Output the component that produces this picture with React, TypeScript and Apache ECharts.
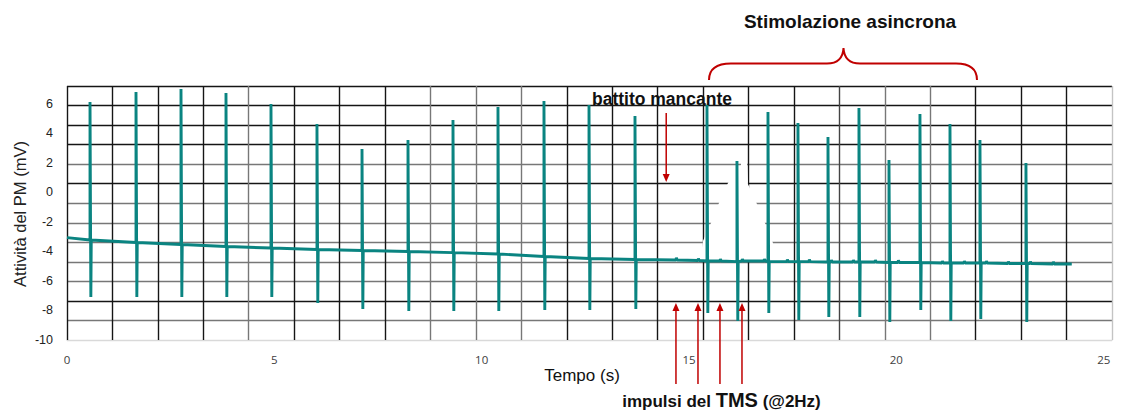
import React, { useEffect, useRef } from "react";
import * as echarts from "echarts";

// ---- data ----
const traceStart = [0, -3.07];
const traceEnd = [24.23, -4.85];

const beatTimes = [0.555, 1.664, 2.749, 3.834, 4.919, 6.028, 7.114, 8.223, 9.308, 10.393, 11.502, 12.588, 13.697, 15.433, 16.156, 16.904, 17.627, 18.351, 19.098, 19.822, 20.569, 21.293, 22.016, 23.125];
const beatBases = [-3.23, -3.4, -3.53, -3.67, -3.77, -3.87, -3.94, -4.01, -4.08, -4.18, -4.35, -4.48, -4.55, -4.65, -4.69, -4.69, -4.69, -4.72, -4.72, -4.75, -4.75, -4.79, -4.79, -4.82];
const beatPeaks = [6.11, 6.79, 6.99, 6.72, 5.98, 4.62, 2.93, 3.54, 4.9, 5.78, 6.18, 5.91, 5.17, 5.91, 2.12, 5.44, 4.69, 3.74, 5.71, 2.19, 5.3, 4.62, 3.54, 1.98];
const beatTroughs = [-7.09, -7.09, -7.09, -7.09, -7.09, -7.49, -7.9, -8.04, -8.04, -8.04, -7.97, -7.97, -7.9, -8.17, -8.71, -8.17, -8.65, -8.44, -8.44, -8.78, -7.97, -8.71, -8.58, -8.78];

const stimTimes = [14.685, 15.216, 15.746, 16.277, 16.807, 17.362, 17.892, 18.423, 18.953, 19.484, 20.039, 21.1, 21.63, 22.161, 22.691, 23.222, 23.776];
const stimBases = [-4.58, -4.62, -4.65, -4.65, -4.65, -4.69, -4.69, -4.72, -4.72, -4.72, -4.75, -4.79, -4.79, -4.79, -4.82, -4.82, -4.85];
const stimTops = [-4.44, -4.48, -4.51, -4.51, -4.51, -4.55, -4.55, -4.58, -4.58, -4.58, -4.61, -4.65, -4.65, -4.65, -4.68, -4.68, -4.71];

const missingBeatTime = 14.45;
const arrowedStims = [14.685, 15.216, 15.746, 16.277];

// white patch over the grid paper (data units)
const maskX = [15.264, 15.336, 15.529, 15.722, 15.939, 16.253, 16.253, 16.397, 16.421, 16.638, 16.831, 17.024, 17.097];
const maskY = [-4.72, -3.297, -2.079, -0.724, 0.63, 1.848, 2.051, 2.051, 0.562, -0.792, -2.079, -3.433, -4.72];

const xTickLabels = [0, 5, 10, 15, 20, 25];
const yTickLabels = [-10, -8, -6, -4, -2, 0, 2, 4, 6];

// grid-paper line colours
const K = "#151515";
const G = "#777777";
const vColors = [K, K, K, K, G, K, K, K, G, G, G, K, K, K, K, K, K, "#444", G, G, K, K, K, "#c4c4c4"];
const hColors = ["#d9d9d9", G, K, G, G, G, G, G, K, G, K, K, K, K];

const RED = "#c00000";
const TEAL = "#0a8481";

const braceD =
  "M709,80 C709,69 717,63.5 731,63.5 L827,63.5 C838,63.5 843,58 843.5,48 C844,58 849,63.5 860,63.5 L956,63.5 C970,63.5 977,69 977,80";
echarts.graphic.registerShape("brace", echarts.graphic.extendPath(braceD, {}));

function buildTrace() {
  type Ev = { t: number; pts: number[][] };
  const evs: Ev[] = [];
  beatTimes.forEach((t, i) => {
    evs.push({
      t,
      pts: [
        [t, beatBases[i]],
        [t, beatPeaks[i]],
        [t + 0.02, beatTroughs[i]],
        [t + 0.03, beatBases[i]],
      ],
    });
  });
  stimTimes.forEach((t, i) => {
    evs.push({
      t,
      pts: [
        [t, stimBases[i]],
        [t + 0.01, stimTops[i]],
        [t + 0.03, stimBases[i]],
      ],
    });
  });
  evs.sort((a, b) => a.t - b.t);
  const out: number[][] = [traceStart];
  evs.forEach((e) => e.pts.forEach((p) => out.push(p)));
  out.push(traceEnd);
  return out;
}

export default function App() {
  const ref = useRef<HTMLDivElement>(null);
  useEffect(() => {
    document.body.style.margin = "0";
    const el = ref.current!;
    const chart = echarts.init(el, null, { renderer: "svg" });
    const font = '"Liberation Sans", Arial, sans-serif';
    const option: any = {
      animation: false,
      grid: { left: 67, right: 9, top: 86, bottom: 72, containLabel: false, outerBoundsMode: "none" },
      xAxis: [
        {
          type: "value",
          min: 0,
          max: 25.2,
          interval: 5,
          position: "bottom",
          axisLine: { show: true, onZero: false, lineStyle: { color: "#d9d9d9", width: 1.2 } },
          axisTick: { show: false },
          splitLine: { show: false },
          axisLabel: {
            margin: 13,
            fontSize: 11.5,
            color: "#404040",
            fontFamily: "Open Sans",
            formatter: (v: number) => (xTickLabels.some((t) => Math.abs(t - v) < 1e-6) ? String(v) : ""),
          },
        },
        {
          type: "value",
          min: 0,
          max: 23,
          interval: 1,
          position: "top",
          axisLine: { show: false },
          axisTick: { show: false },
          axisLabel: { show: false },
          splitLine: { show: true, lineStyle: { color: vColors, width: 1.4 } },
        },
      ],
      yAxis: [
        {
          type: "value",
          min: -10,
          max: 7.2,
          interval: 2,
          axisLine: { show: false },
          axisTick: { show: false },
          splitLine: { show: false },
          axisLabel: {
            margin: 14,
            fontSize: 12.5,
            color: "#222",
            fontFamily: font,
            formatter: (v: number) => (yTickLabels.some((t) => Math.abs(t - v) < 1e-6) ? String(v) : ""),
          },
        },
        {
          type: "value",
          min: 0,
          max: 13,
          interval: 1,
          position: "right",
          axisLine: { show: false },
          axisTick: { show: false },
          axisLabel: { show: false },
          splitLine: { show: true, lineStyle: { color: hColors, width: 1.4 } },
        },
      ],
      series: [
        {
          type: "custom",
          xAxisIndex: 0,
          yAxisIndex: 0,
          silent: true,
          z: 1,
          data: maskX.map((x, i) => [x, maskY[i]]),
          renderItem: (params: any, api: any) => {
            if (params.dataIndex !== 0) return null;
            const pts = maskX.map((x, i) => api.coord([x, maskY[i]]));
            return { type: "polygon", shape: { points: pts }, style: { fill: "#ffffff", stroke: null } };
          },
        },
        {
          type: "line",
          xAxisIndex: 0,
          yAxisIndex: 0,
          data: buildTrace(),
          showSymbol: false,
          symbol: "none",
          silent: true,
          z: 3,
          lineStyle: { color: TEAL, width: 2.9, join: "bevel" },
        },
      ],
    };
    chart.setOption(option);

    const px = (t: number) => chart.convertToPixel({ xAxisIndex: 0 }, t) as number;
    const graphics: any[] = [];
    graphics.push({
      type: "brace",
      x: 0,
      y: 0,
      style: { stroke: RED, fill: "none", lineWidth: 2 },
      silent: true,
    });
    graphics.push({
      type: "text",
      x: 20,
      y: 214,
      rotation: Math.PI / 2,
      style: { text: "Attività del PM (mV)", fontSize: 16.5, fontFamily: font, fill: "#222", align: "center", verticalAlign: "middle" },
    });
    graphics.push({
      type: "text",
      x: 850,
      y: 21,
      style: { text: "Stimolazione asincrona", fontSize: 19, fontWeight: "bold", fontFamily: font, fill: "#111", align: "center", verticalAlign: "middle" },
    });
    graphics.push({
      type: "text",
      x: 662,
      y: 99,
      z: 10,
      style: { text: "battito mancante", fontSize: 17.5, fontWeight: "bold", fontFamily: font, fill: "#111", align: "center", verticalAlign: "middle" },
    });
    graphics.push({
      type: "text",
      x: 582,
      y: 375,
      style: { text: "Tempo (s)", fontSize: 17, fontFamily: font, fill: "#111", align: "center", verticalAlign: "middle" },
    });
    graphics.push({
      type: "text",
      x: 721.5,
      y: 400,
      style: {
        text: "{a|impulsi del }{b|TMS}{a| (@2Hz)}",
        align: "center",
        verticalAlign: "middle",
        fill: "#111",
        rich: {
          a: { fontSize: 17, fontWeight: "bold", fontFamily: font, fill: "#111", verticalAlign: "bottom" },
          b: { fontSize: 20, fontWeight: "bold", fontFamily: font, fill: "#111", verticalAlign: "bottom" },
        },
      },
    });
    // missing beat arrow
    const mx = px(missingBeatTime);
    graphics.push({ type: "line", z: 10, shape: { x1: mx, y1: 113, x2: mx, y2: 175 }, style: { stroke: RED, lineWidth: 1.5 } });
    graphics.push({ type: "polygon", z: 10, shape: { points: [[mx, 182], [mx - 3.5, 174], [mx + 3.5, 174]] }, style: { fill: RED } });
    // TMS arrows
    arrowedStims.forEach((t) => {
      const x = px(t);
      graphics.push({ type: "line", z: 10, shape: { x1: x, y1: 310, x2: x, y2: 384 }, style: { stroke: RED, lineWidth: 1.5 } });
      graphics.push({ type: "polygon", z: 10, shape: { points: [[x, 303], [x - 3.5, 311], [x + 3.5, 311]] }, style: { fill: RED } });
    });
    chart.setOption({ graphic: graphics });

    return () => chart.dispose();
  }, []);
  return <div ref={ref} style={{ width: 1121, height: 412 }} />;
}
